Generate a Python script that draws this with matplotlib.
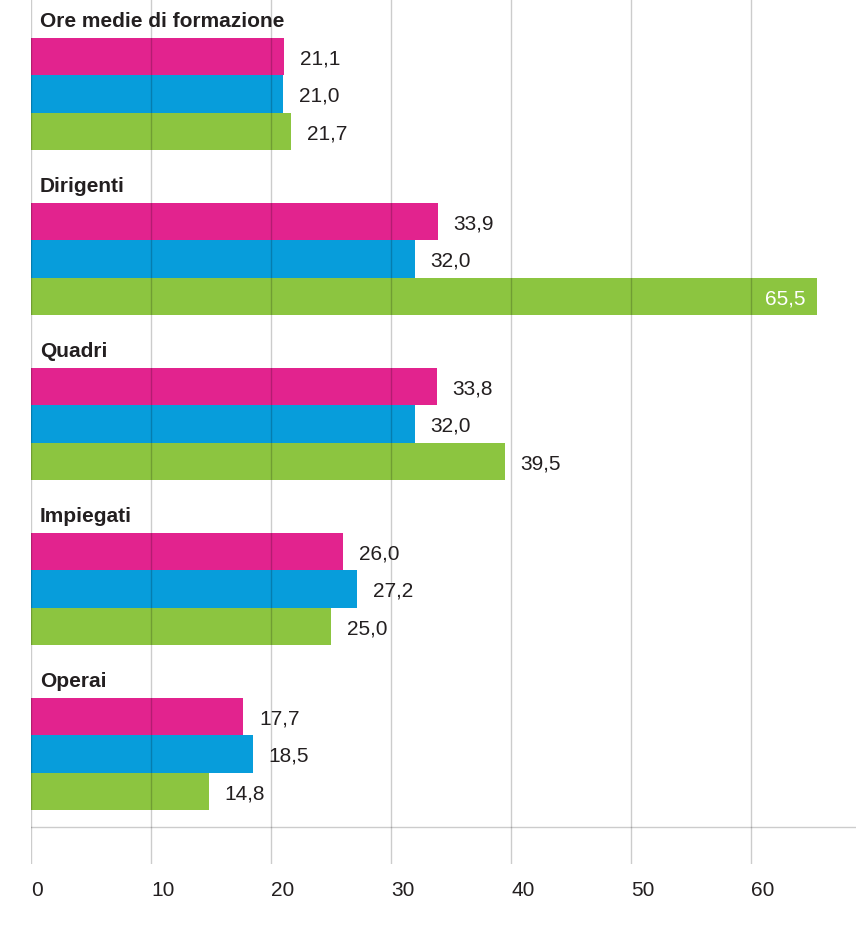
import matplotlib
matplotlib.use("Agg")
import matplotlib.pyplot as plt
import numpy as np

plt.rcParams['font.family'] = ['Liberation Sans', 'DejaVu Sans']

categories = ["Ore medie di formazione", "Dirigenti", "Quadri", "Impiegati", "Operai"]
series_pink = [21.1, 33.9, 33.8, 26.0, 17.7]
series_blue = [21.0, 32.0, 32.0, 27.2, 18.5]
series_green = [21.7, 65.5, 39.5, 25.0, 14.8]
xticks = [0, 10, 20, 30, 40, 50, 60]

colors = ["#E2238E", "#079DDB", "#8CC540"]
text_color = "#231F20"
FS = 15

W, H = 856, 934
fig = plt.figure(figsize=(W / 100, H / 100), dpi=100)
ax_bottom_px = 864
ax = fig.add_axes([31 / W, (H - ax_bottom_px) / H, (W - 31) / W, ax_bottom_px / H])

unit = 37.33  # px per bar height
period = 165 / unit
first_top = 38 / unit
ax.set_xlim(0, (W - 31) / 12.0)
ax.set_ylim(ax_bottom_px / unit, 0)

series = [series_pink, series_blue, series_green]
for i, cat in enumerate(categories):
    base = first_top + i * period
    ax.text(0.75, base - 11 / unit, cat, fontsize=FS, fontweight='bold',
            color=text_color, va='baseline', ha='left', zorder=4)
    for j, s in enumerate(series):
        v = s[i]
        yc = base + j + 0.5
        ax.barh(yc, v, height=1.0, color=colors[j], zorder=1)
        lab = f"{v:.1f}".replace('.', ',')
        yb = yc + 8.0 / unit
        if v > 60:
            ax.text(v - 1.0, yb, lab, fontsize=FS, color='white',
                    va='baseline', ha='right', zorder=4)
        else:
            ax.text(v + 1.3, yb, lab, fontsize=FS, color=text_color,
                    va='baseline', ha='left', zorder=4)

grid_kw = dict(color='black', alpha=0.2, linewidth=1.0, zorder=3)
for t in xticks:
    ax.axvline(t, **grid_kw)
ax.axhline(827 / unit, **grid_kw)

ax.set_xticks(xticks)
ax.set_xticklabels([str(t) for t in xticks])
for lbl in ax.get_xticklabels():
    lbl.set_horizontalalignment('left')
ax.set_yticks([])
ax.tick_params(axis='x', length=0, pad=12, labelsize=FS, labelcolor=text_color)
for sp in ax.spines.values():
    sp.set_visible(False)

fig.savefig("out.png", dpi=100)
